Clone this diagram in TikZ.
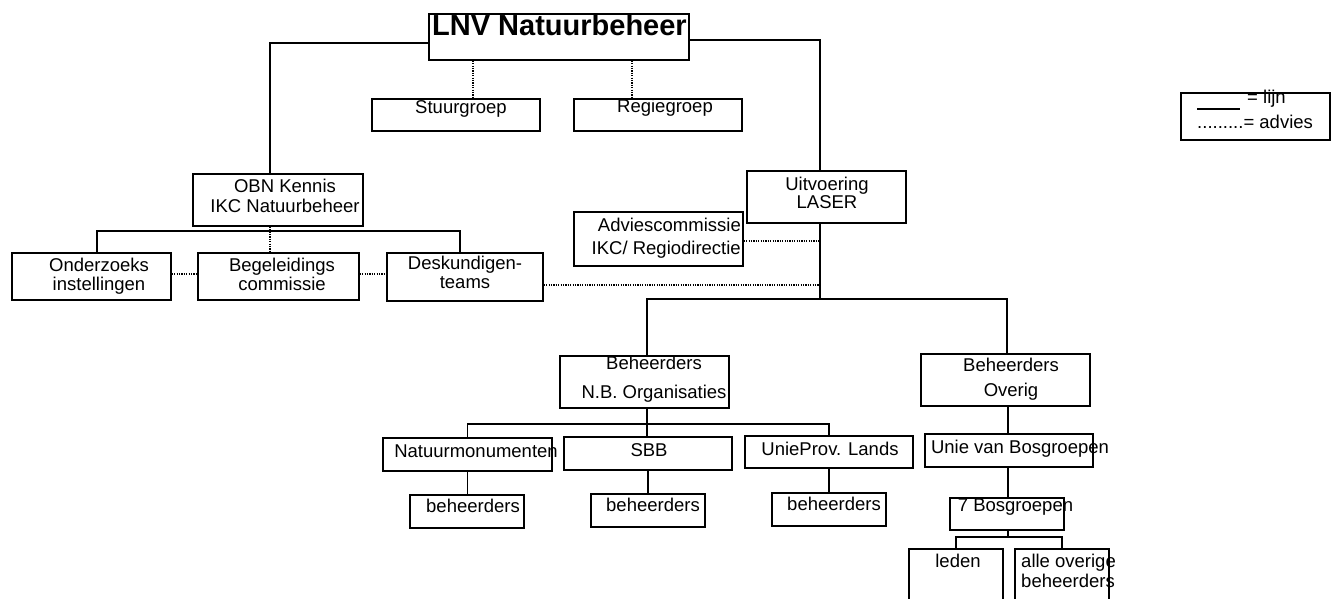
\documentclass[tikz,border=0pt]{standalone}
\usepackage{fontspec}
\setmainfont{Liberation Sans}
\usetikzlibrary{positioning}

\begin{document}
\begin{tikzpicture}[x=1pt, y=-1pt]
		\tikzstyle{blok} = [draw, line width=1.4pt, inner sep=0pt]
		\tikzstyle{tekst} = [inner sep=0pt, align=center, font=\fontsize{18.5}{19}\selectfont]
		\tikzstyle{lijn} = [line width=1.4pt]
		\tikzstyle{advies} = [line width=1.4pt, dash pattern=on 1.2pt off 1.2pt]

		\useasboundingbox (0,0) rectangle (1338,598);
		\clip (0,0) rectangle (1338,598);

		% top
		\node[blok, minimum width=260pt, minimum height=46pt] (lnv) at (559,37) {};
		\node[tekst, anchor=base, font=\fontsize{29}{30}\selectfont\bfseries] (lnv-t) at (559.5,35.5) {LNV Natuurbeheer};

		\node[blok, minimum width=168pt, minimum height=32pt] (stuur) at (456,115) {};
		\node[tekst, anchor=base] (stuur-t) at (461,113) {Stuurgroep};
		\node[blok, minimum width=168pt, minimum height=32pt] (regie) at (658,115) {};
		\node[tekst, anchor=base] (regie-t) at (665,112) {Regiegroep};

		% kennis
		\node[blok, minimum width=170pt, minimum height=52pt] (obn) at (278,200) {};
		\node[tekst, anchor=north] (obn-t) at (285,178.7) {OBN Kennis\\[1pt]IKC Natuurbeheer};

		\node[blok, minimum width=159pt, minimum height=47pt] (onderz) at (91.5,276.5) {};
		\node[tekst, anchor=north] (onderz-t) at (99,257.7) {Onderzoeks\\instellingen};
		\node[blok, minimum width=161pt, minimum height=47pt] (begel) at (278.5,276.5) {};
		\node[tekst, anchor=north] (begel-t) at (282,257.7) {Begeleidings\\commissie};
		\node[blok, minimum width=156pt, minimum height=48pt] (desk) at (465,277) {};
		\node[tekst, anchor=north] (desk-t) at (465,255.7) {Deskundigen-\\teams};

		% uitvoering
		\node[blok, minimum width=159pt, minimum height=52pt] (uitv) at (826.5,197) {};
		\node[tekst, anchor=north] (uitv-t) at (827,176.7) {Uitvoering\\[-1pt]LASER};
		\node[blok, minimum width=169pt, minimum height=54pt] (adv) at (658.5,239) {};
		\node[tekst, anchor=north east, align=right] (adv-t) at (741,217.7) {Adviescommissie\\[4pt]IKC/ Regiodirectie};

		% beheerders
		\node[blok, minimum width=169pt, minimum height=52pt] (nbo) at (644.5,382) {};
		\node[tekst, anchor=north] (nbo-t) at (654,355.7) {Beheerders\\[10pt]N.B. Organisaties};
		\node[blok, minimum width=169pt, minimum height=52pt] (ovg) at (1005.5,380) {};
		\node[tekst, anchor=north] (ovg-t) at (1011,357.7) {Beheerders\\[6pt]Overig};

		\node[blok, minimum width=169pt, minimum height=33pt] (natm) at (467.5,454.5) {};
		\node[tekst, anchor=base] (natm-t) at (476,457) {Natuurmonumenten};
		\node[blok, minimum width=168pt, minimum height=33pt] (sbb) at (648,453.5) {};
		\node[tekst, anchor=base] (sbb-t) at (649,456) {SBB};
		\node[blok, minimum width=168pt, minimum height=32pt] (unie) at (829,452) {};
		\node[tekst, anchor=base] (unie-t) at (830,455) {UnieProv. Lands};
		\node[blok, minimum width=168pt, minimum height=33pt] (bosunie) at (1009,450.5) {};
		\node[tekst, anchor=base] (bosunie-t) at (1020,453) {Unie van Bosgroepen};

		\node[blok, minimum width=114pt, minimum height=33pt] (beh1) at (467,511.5) {};
		\node[tekst, anchor=base] (beh1-t) at (473,512) {beheerders};
		\node[blok, minimum width=114pt, minimum height=33pt] (beh2) at (648,510.5) {};
		\node[tekst, anchor=base] (beh2-t) at (653,511) {beheerders};
		\node[blok, minimum width=114pt, minimum height=33pt] (beh3) at (829,509.5) {};
		\node[tekst, anchor=base] (beh3-t) at (834,510) {beheerders};
		\node[blok, minimum width=114pt, minimum height=32pt] (bos7) at (1007,514) {};
		\node[tekst, anchor=base] (bos7-t) at (1015.5,511) {7 Bosgroepen};

		\node[blok, minimum width=94pt, minimum height=71pt] (leden) at (956,584.5) {};
		\node[tekst, anchor=base] (leden-t) at (958,567) {leden};
		\node[blok, minimum width=94pt, minimum height=71pt] (alle) at (1062,584.5) {};
		\node[tekst, anchor=north west, align=left] (alle-t) at (1021,553.7) {alle overige\\[1pt]beheerders};

		% lijnen
		\coordinate (obnbus) at (270,231);
		\coordinate (laserbus) at (820,299);
		\coordinate (nbobus) at (647,424);
		\coordinate (bosbus) at (1008,537);

		\draw[lijn] ([yshift=-6pt]lnv.west) -| ([xshift=-8pt]obn.north);
		\draw[lijn] ([yshift=-3pt]lnv.east) -| ([xshift=-6.5pt]uitv.north);
		\draw[advies] ([xshift=-86pt]lnv.south) -- ([xshift=-86pt]lnv.south |- stuur.north);
		\draw[advies] ([xshift=73pt]lnv.south) -- ([xshift=73pt]lnv.south |- regie.north);

		\draw[lijn] ([xshift=5.5pt]onderz.north) |- (obnbus) -| ([xshift=-5pt]desk.north);
		\draw[advies] ([xshift=-8pt]obn.south) -- ([xshift=-8pt]obn.south |- begel.north);
		\draw[advies] ([yshift=2.5pt]onderz.east) -- ([yshift=2.5pt]onderz.east -| begel.west);
		\draw[advies] ([yshift=2.5pt]begel.east) -- ([yshift=2.5pt]begel.east -| desk.west);

		\draw[lijn] ([xshift=-6.5pt]uitv.south) -- (laserbus);
		\draw[advies] ([yshift=-2pt]adv.east) -- ([yshift=-2pt]adv.east -| laserbus);
		\draw[advies] ([yshift=-8pt]desk.east) -- ([yshift=-8pt]desk.east -| laserbus);
		\draw[lijn] ([xshift=2.5pt]nbo.north) |- (laserbus) -| ([xshift=1.5pt]ovg.north);

		\draw[lijn] ([xshift=2.5pt]nbo.south) -- (nbobus);
		\draw[lijn] (natm.north) |- (nbobus) -| (unie.north);
		\draw[lijn] (nbobus) -- (nbobus |- sbb.north);
		\draw[lijn] (natm.south) -- (natm.south |- beh1.north);
		\draw[lijn] (sbb.south) -- (sbb.south |- beh2.north);
		\draw[lijn] (unie.south) -- (unie.south |- beh3.north);

		\draw[lijn] ([xshift=2.5pt]ovg.south) -- ([xshift=2.5pt]ovg.south |- bosunie.north);
		\draw[lijn] (bosbus |- bosunie.south) -- (bosbus |- bos7.north);
		\draw[lijn] (bosbus |- bos7.south) -- (bosbus);
		\draw[lijn] (leden.north) |- (bosbus) -| (alle.north);

		% legenda
		\node[blok, minimum width=149pt, minimum height=47pt] (legenda) at (1255.5,116.5) {};
		\draw[lijn] (1197,109) -- (1240,109);
		\node[tekst, anchor=base west] (legenda-lijn) at (1247,103) {= lijn};
		\node[tekst, anchor=base west] (legenda-advies) at (1197,128) {.........= advies};
	\end{tikzpicture}
\end{document}
